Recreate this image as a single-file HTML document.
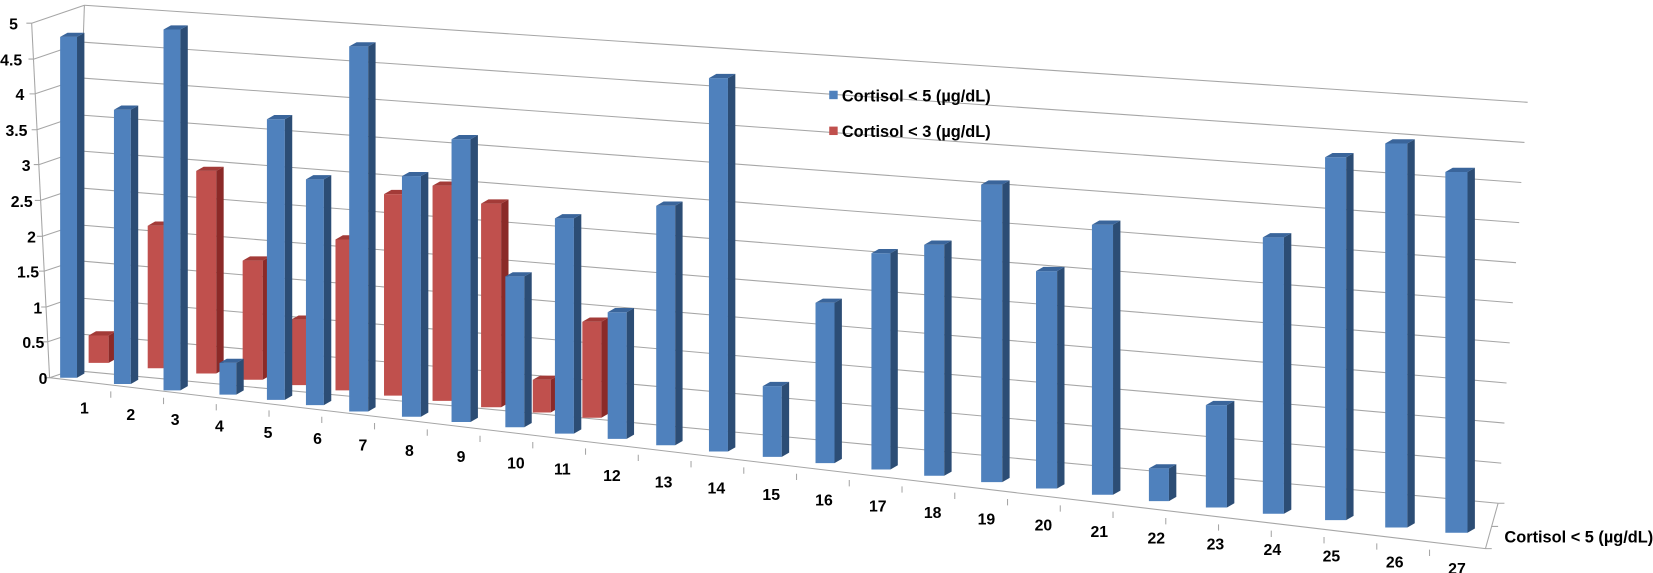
<!DOCTYPE html>
<html><head><meta charset="utf-8"><style>
html,body{margin:0;padding:0;background:#fff;}
svg{display:block;}
text{font-family:"Liberation Sans",sans-serif;font-weight:bold;fill:#000;}
.g{stroke:#a6a6a6;stroke-width:1;fill:none;}
.bf{fill:#4f81bd}.bs{fill:#2c4d75}.bt{fill:#3a659b}
.rf{fill:#c0504d}.rs{fill:#8b2a28}.rt{fill:#a33b38}
</style></head><body>
<svg width="1653" height="573" viewBox="0 0 1653 573" xmlns="http://www.w3.org/2000/svg">
<g transform="scale(1.055)">
<g class="g">
<line x1="80" y1="5" x2="1448" y2="97"/><line x1="79" y1="40" x2="1445" y2="135"/><line x1="78" y1="74" x2="1442" y2="173"/><line x1="76" y1="109" x2="1440" y2="211"/><line x1="75" y1="143" x2="1437" y2="249"/><line x1="74" y1="178" x2="1434" y2="287"/><line x1="73" y1="213" x2="1431" y2="325"/><line x1="72" y1="247" x2="1428" y2="363"/><line x1="70" y1="282" x2="1426" y2="401"/><line x1="69" y1="316" x2="1423" y2="439"/><line x1="68" y1="351" x2="1420" y2="477"/>
<line x1="30" y1="22" x2="80" y2="5"/><line x1="32" y1="56" x2="79" y2="40"/><line x1="33" y1="89" x2="78" y2="74"/><line x1="35" y1="123" x2="76" y2="109"/><line x1="37" y1="156" x2="75" y2="143"/><line x1="38" y1="190" x2="74" y2="178"/><line x1="40" y1="224" x2="73" y2="213"/><line x1="42" y1="257" x2="72" y2="247"/><line x1="44" y1="291" x2="70" y2="282"/><line x1="45" y1="324" x2="69" y2="316"/><line x1="47" y1="358" x2="68" y2="351"/>
<line x1="80" y1="5" x2="68" y2="351"/>
<line x1="30" y1="22" x2="47" y2="358"/>
<path d="M25 22H30M27 56H32M28 89H33M30 123H35M32 156H37M33 190H38M35 224H40M37 257H42M39 291H44M40 324H45M42 358H47"/>
<line x1="47" y1="358" x2="1408" y2="520"/>
<line x1="1420" y1="477" x2="1408" y2="520"/>
<path d="M1420 477H1426M1414 499H1420M1408 520H1414"/>
<path d="M105 371v6M155 377v6M205 383v6M255 389v6M305 395v6M355 401v6M405 407v6M455 413v6M505 419v6M555 425v6M605 431v6M655 437v6M705 443v6M755 449v6M805 455v6M855 461v6M905 467v6M955 473v6M1005 479v6M1055 485v6M1105 491v6M1155 497v6M1205 503v6M1255 509v6M1305 515v6M1355 521v6"/>
</g>
<g font-size="15" text-anchor="end">
<text x="17" y="28">5</text><text x="21" y="62">4.5</text><text x="23" y="95">4</text><text x="26" y="129">3.5</text><text x="29" y="162">3</text><text x="31" y="196">2.5</text><text x="34" y="230">2</text><text x="37" y="263">1.5</text><text x="40" y="297">1</text><text x="42" y="330">0.5</text><text x="45" y="364">0</text>
</g>
<!-- red bars -->
<g>
<path class="rf" d="M84 318H103V344H84Z"/><path class="rs" d="M103 318L110 314V340L103 344Z"/><path class="rt" d="M84 318L91 314H110L103 318Z"/>
<path class="rf" d="M140 214H159V349H140Z"/><path class="rs" d="M159 214L166 210V345L159 349Z"/><path class="rt" d="M140 214L147 210H166L159 214Z"/>
<path class="rf" d="M186 162H205V354H186Z"/><path class="rs" d="M205 162L212 158V350L205 354Z"/><path class="rt" d="M186 162L193 158H212L205 162Z"/>
<path class="rf" d="M230 247H249V360H230Z"/><path class="rs" d="M249 247L256 243V356L249 360Z"/><path class="rt" d="M230 247L237 243H256L249 247Z"/>
<path class="rf" d="M276 303H295V365H276Z"/><path class="rs" d="M295 303L302 299V361L295 365Z"/><path class="rt" d="M276 303L283 299H302L295 303Z"/>
<path class="rf" d="M318 227H337V370H318Z"/><path class="rs" d="M337 227L344 223V366L337 370Z"/><path class="rt" d="M318 227L325 223H344L337 227Z"/>
<path class="rf" d="M364 184H383V375H364Z"/><path class="rs" d="M383 184L390 180V371L383 375Z"/><path class="rt" d="M364 184L371 180H390L383 184Z"/>
<path class="rf" d="M410 176H429V380H410Z"/><path class="rs" d="M429 176L436 172V376L429 380Z"/><path class="rt" d="M410 176L417 172H436L429 176Z"/>
<path class="rf" d="M456 193H475V386H456Z"/><path class="rs" d="M475 193L482 189V382L475 386Z"/><path class="rt" d="M456 193L463 189H482L475 193Z"/>
<path class="rf" d="M505 360H522V391H505Z"/><path class="rs" d="M522 360L529 356V387L522 391Z"/><path class="rt" d="M505 360L512 356H529L522 360Z"/>
<path class="rf" d="M552 305H570V396H552Z"/><path class="rs" d="M570 305L577 301V392L570 396Z"/><path class="rt" d="M552 305L559 301H577L570 305Z"/>
</g>
<!-- blue bars -->
<g>
<path class="bf" d="M57 35H73V358H57Z"/><path class="bs" d="M73 35L80 31V354L73 358Z"/><path class="bt" d="M57 35L64 31H80L73 35Z"/>
<path class="bf" d="M108 104H124V364H108Z"/><path class="bs" d="M124 104L131 100V360L124 364Z"/><path class="bt" d="M108 104L115 100H131L124 104Z"/>
<path class="bf" d="M155 28H171V370H155Z"/><path class="bs" d="M171 28L178 24V366L171 370Z"/><path class="bt" d="M155 28L162 24H178L171 28Z"/>
<path class="bf" d="M208 344H224V374H208Z"/><path class="bs" d="M224 344L231 340V370L224 374Z"/><path class="bt" d="M208 344L215 340H231L224 344Z"/>
<path class="bf" d="M253 113H270V379H253Z"/><path class="bs" d="M270 113L277 109V375L270 379Z"/><path class="bt" d="M253 113L260 109H277L270 113Z"/>
<path class="bf" d="M290 170H307V384H290Z"/><path class="bs" d="M307 170L314 166V380L307 384Z"/><path class="bt" d="M290 170L297 166H314L307 170Z"/>
<path class="bf" d="M331 44H349V390H331Z"/><path class="bs" d="M349 44L356 40V386L349 390Z"/><path class="bt" d="M331 44L338 40H356L349 44Z"/>
<path class="bf" d="M381 167H399V395H381Z"/><path class="bs" d="M399 167L406 163V391L399 395Z"/><path class="bt" d="M381 167L388 163H406L399 167Z"/>
<path class="bf" d="M428 132H446V400H428Z"/><path class="bs" d="M446 132L453 128V396L446 400Z"/><path class="bt" d="M428 132L435 128H453L446 132Z"/>
<path class="bf" d="M479 262H497V405H479Z"/><path class="bs" d="M497 262L504 258V401L497 405Z"/><path class="bt" d="M479 262L486 258H504L497 262Z"/>
<path class="bf" d="M526 207H544V411H526Z"/><path class="bs" d="M544 207L551 203V407L544 411Z"/><path class="bt" d="M526 207L533 203H551L544 207Z"/>
<path class="bf" d="M576 296H594V416H576Z"/><path class="bs" d="M594 296L601 292V412L594 416Z"/><path class="bt" d="M576 296L583 292H601L594 296Z"/>
<path class="bf" d="M622 195H640V422H622Z"/><path class="bs" d="M640 195L647 191V418L640 422Z"/><path class="bt" d="M622 195L629 191H647L640 195Z"/>
<path class="bf" d="M672 74H690V428H672Z"/><path class="bs" d="M690 74L697 70V424L690 428Z"/><path class="bt" d="M672 74L679 70H697L690 74Z"/>
<path class="bf" d="M723 366H741V433H723Z"/><path class="bs" d="M741 366L748 362V429L741 433Z"/><path class="bt" d="M723 366L730 362H748L741 366Z"/>
<path class="bf" d="M773 287H791V439H773Z"/><path class="bs" d="M791 287L798 283V435L791 439Z"/><path class="bt" d="M773 287L780 283H798L791 287Z"/>
<path class="bf" d="M826 240H844V445H826Z"/><path class="bs" d="M844 240L851 236V441L844 445Z"/><path class="bt" d="M826 240L833 236H851L844 240Z"/>
<path class="bf" d="M876 232H895V451H876Z"/><path class="bs" d="M895 232L902 228V447L895 451Z"/><path class="bt" d="M876 232L883 228H902L895 232Z"/>
<path class="bf" d="M930 175H950V457H930Z"/><path class="bs" d="M950 175L957 171V453L950 457Z"/><path class="bt" d="M930 175L937 171H957L950 175Z"/>
<path class="bf" d="M982 257H1002V463H982Z"/><path class="bs" d="M1002 257L1009 253V459L1002 463Z"/><path class="bt" d="M982 257L989 253H1009L1002 257Z"/>
<path class="bf" d="M1035 213H1055V469H1035Z"/><path class="bs" d="M1055 213L1062 209V465L1055 469Z"/><path class="bt" d="M1035 213L1042 209H1062L1055 213Z"/>
<path class="bf" d="M1089 444H1108V475H1089Z"/><path class="bs" d="M1108 444L1115 440V471L1108 475Z"/><path class="bt" d="M1089 444L1096 440H1115L1108 444Z"/>
<path class="bf" d="M1143 384H1163V481H1143Z"/><path class="bs" d="M1163 384L1170 380V477L1163 481Z"/><path class="bt" d="M1143 384L1150 380H1170L1163 384Z"/>
<path class="bf" d="M1197 225H1217V487H1197Z"/><path class="bs" d="M1217 225L1224 221V483L1217 487Z"/><path class="bt" d="M1197 225L1204 221H1224L1217 225Z"/>
<path class="bf" d="M1256 149H1276V493H1256Z"/><path class="bs" d="M1276 149L1283 145V489L1276 493Z"/><path class="bt" d="M1256 149L1263 145H1283L1276 149Z"/>
<path class="bf" d="M1313 136H1334V500H1313Z"/><path class="bs" d="M1334 136L1341 132V496L1334 500Z"/><path class="bt" d="M1313 136L1320 132H1341L1334 136Z"/>
<path class="bf" d="M1370 163H1391V505H1370Z"/><path class="bs" d="M1391 163L1398 159V501L1391 505Z"/><path class="bt" d="M1370 163L1377 159H1398L1391 163Z"/>
</g>
<g font-size="15" text-anchor="middle">
<text x="80" y="392">1</text><text x="124" y="398">2</text><text x="166" y="403">3</text><text x="208" y="409">4</text><text x="254" y="415">5</text><text x="301" y="421">6</text><text x="344" y="427">7</text><text x="388" y="432">8</text><text x="437" y="438">9</text><text x="489" y="444">10</text><text x="533" y="450">11</text><text x="580" y="456">12</text><text x="629" y="462">13</text><text x="679" y="468">14</text><text x="731" y="474">15</text><text x="781" y="479">16</text><text x="832" y="485">17</text><text x="884" y="491">18</text><text x="935" y="497">19</text><text x="989" y="503">20</text><text x="1042" y="509">21</text><text x="1096" y="515">22</text><text x="1152" y="521">23</text><text x="1206" y="526">24</text><text x="1262" y="532">25</text><text x="1322" y="538">26</text><text x="1381" y="544">27</text>
</g>
<text x="1426" y="514" font-size="15.5">Cortisol &lt; 5 (µg/dL)</text>
<rect x="786" y="86" width="8" height="8" fill="#4f81bd"/>
<text x="798" y="96" font-size="15.5">Cortisol &lt; 5 (µg/dL)</text>
<rect x="786" y="120" width="8" height="8" fill="#c0504d"/>
<text x="798" y="130" font-size="15.5">Cortisol &lt; 3 (µg/dL)</text>
</g>
</svg>
</body></html>
